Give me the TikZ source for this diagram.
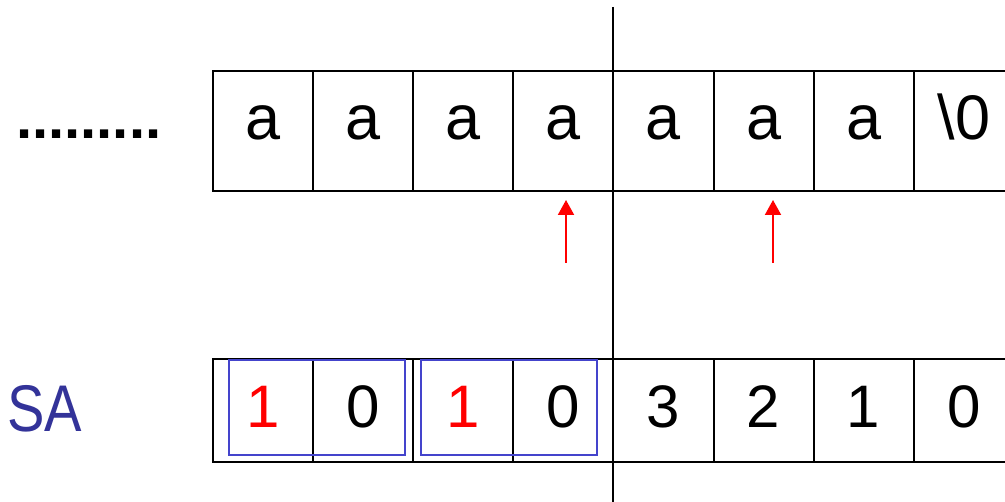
\documentclass[tikz,border=0pt]{standalone}
\usepackage{fontspec}
\setmainfont{Liberation Sans}
\usetikzlibrary{arrows.meta}
\definecolor{sablue}{RGB}{51,51,153}
\definecolor{boxblue}{RGB}{68,68,204}
\definecolor{pred}{RGB}{255,0,0}
\tikzset{
  topcell/.style={draw=black, line width=2pt, minimum width=100.1pt, minimum height=120pt, inner sep=0pt,
    text height=50pt, text depth=32pt, font=\fontsize{63}{70}\selectfont},
  botcell/.style={draw=black, line width=2pt, minimum width=100.1pt, minimum height=103pt, inner sep=0pt,
    text height=50pt, text depth=15pt, font=\fontsize{60}{66}\selectfont},
  groupbox/.style={draw=boxblue, line width=1.5pt},
  pointer/.style={draw=pred, line width=2pt, -{Triangle[length=15pt,width=16pt]}},
  divider/.style={draw=black, line width=2pt}
}
\begin{document}
\begin{tikzpicture}[x=1pt,y=-1pt]
\clip (0,0) rectangle (1005,502);
\fill[white] (0,0) rectangle (1005,502);
% top row
\node[topcell] (t1) at (263.05,131) {a};
\node[topcell] (t2) at (363.15,131) {a};
\node[topcell] (t3) at (463.25,131) {a};
\node[topcell] (t4) at (563.35,131) {a};
\node[topcell] (t5) at (663.45,131) {a};
\node[topcell] (t6) at (763.55,131) {a};
\node[topcell] (t7) at (863.65,131) {a};
\node[topcell] (t8) at (963.75,131) {\textbackslash 0};
% bottom row
\node[botcell,text=pred] (b1) at (263.05,410.5) {1};
\node[botcell] (b2) at (363.15,410.5) {0};
\node[botcell,text=pred] (b3) at (463.25,410.5) {1};
\node[botcell] (b4) at (563.35,410.5) {0};
\node[botcell] (b5) at (663.45,410.5) {3};
\node[botcell] (b6) at (763.55,410.5) {2};
\node[botcell] (b7) at (863.65,410.5) {1};
\node[botcell] (b8) at (963.75,410.5) {0};
% group boxes
\draw[groupbox] (229,360) rectangle (405,455);
\draw[groupbox] (421,360) rectangle (597,455);
% labels
\node[anchor=base west, inner sep=0pt, font=\fontsize{58}{60}\selectfont\bfseries] (dots) at (16,139) {.........};
\node[anchor=base west, inner sep=0pt, text=sablue, font=\fontsize{66}{70}\selectfont] (sa) at (7,432) {\scalebox{0.85}[1]{SA}};
% divider
\coordinate (dtop) at (613,7);
\coordinate (dbot) at (613,502);
\draw[divider] (dtop) -- (dbot);
% pointers
\coordinate (p1s) at (566,263);
\coordinate (p1e) at (566,200);
\coordinate (p2s) at (773,263);
\coordinate (p2e) at (773,200);
\draw[pointer] (p1s) -- (p1e);
\draw[pointer] (p2s) -- (p2e);
\end{tikzpicture}
\end{document}
